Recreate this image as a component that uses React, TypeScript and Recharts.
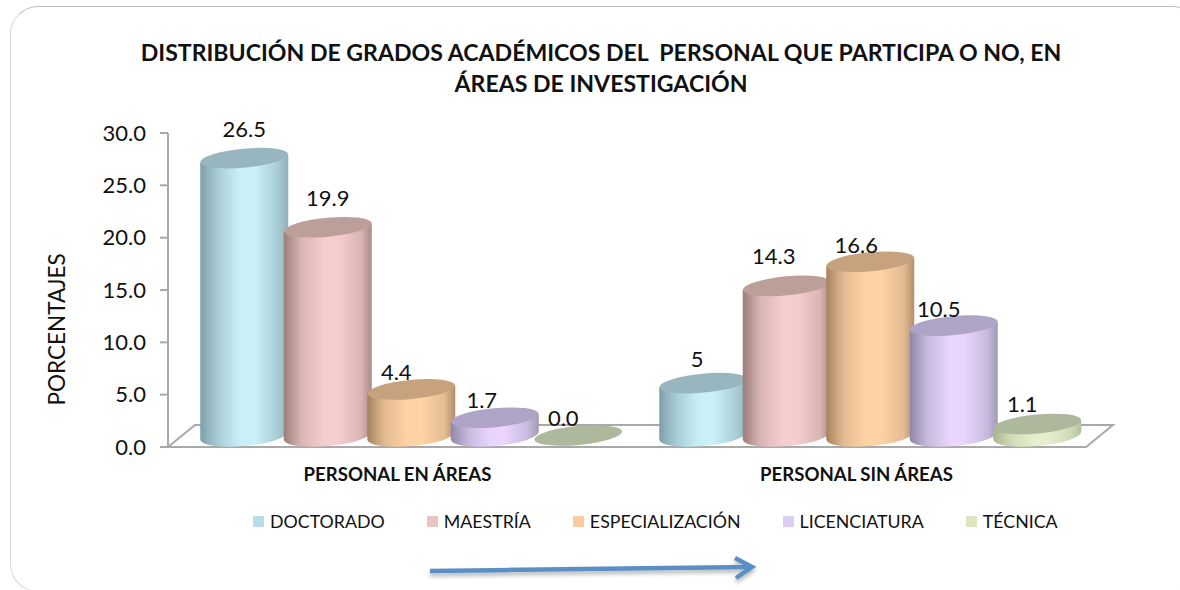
import { BarChart, Bar, XAxis, YAxis, LabelList, Legend, ReferenceArea } from "recharts";

const categories = ["PERSONAL EN ÁREAS", "PERSONAL SIN ÁREAS"];
const yTicks = [0, 5, 10, 15, 20, 25, 30];

const doctorado = [26.5, 5];
const maestria = [19.9, 14.3];
const especializacion = [4.4, 16.6];
const licenciatura = [1.7, 10.5];
const tecnica = [0.0, 1.1];

const seriesNames = ["DOCTORADO", "MAESTRÍA", "ESPECIALIZACIÓN", "LICENCIATURA", "TÉCNICA"];
const seriesValues = [doctorado, maestria, especializacion, licenciatura, tecnica];
// the source prints the second doctorado value without a decimal
const valueLabels = [
  ["26.5", "5"],
  ["19.9", "14.3"],
  ["4.4", "16.6"],
  ["1.7", "10.5"],
  ["0.0", "1.1"],
];

const chartData = categories.map((name, c) => {
  const row: Record<string, string | number> = { name };
  seriesNames.forEach((s, i) => {
    row[s] = seriesValues[i][c];
  });
  return row;
});

// colours per series: edge, mid, light centre, right edge, top cap, legend swatch
const palette = [
  { left: "#7d9fab", mid: "#a9cdd7", light: "#c9eff7", right: "#8fb0ba", cap: "#98b6c0", swatch: "#b7dde8" },
  { left: "#9a7d79", mid: "#d9b5b4", light: "#f5cdce", right: "#a88a86", cap: "#bd9f99", swatch: "#e8c4c2" },
  { left: "#a5835f", mid: "#e4bb92", light: "#fed2a5", right: "#b08e6c", cap: "#c8a27c", swatch: "#fcc9a0" },
  { left: "#8f88a5", mid: "#c7b9dd", light: "#e9d5fd", right: "#a299b4", cap: "#aea4c6", swatch: "#dccdf3" },
  { left: "#aab593", mid: "#cfdab6", light: "#e5efcd", right: "#b4bf9c", cap: "#aeb89c", swatch: "#dde6c3" },
];

// hand placed label offsets [dx, dy] from each cap centre, the source has them moved around
const labelNudge = [
  [[0, -30], [-6, -25]],
  [[0, -30], [-13, -30]],
  [[-15, -18], [-14, -17]],
  [[-13, -18], [-15, -17]],
  [[-15, -18], [-15, -20]],
];

const FONT = "Lato, Carlito, sans-serif";
const DEPTH_X = 13.5;
const DEPTH_Y = 11.5;
const RX = 44;
const RY = 9.5;
const TILT = -5.4;
const SKEW = 4;

function Cylinder(props: any) {
  const { x, y, width, height, seriesIndex } = props;
  const colors = palette[seriesIndex];
  const cx = x + width / 2 + DEPTH_X;
  const top = y - DEPTH_Y;
  const base = y + height - DEPTH_Y;
  const body = `M${cx - RX},${top + SKEW} L${cx - RX},${base + SKEW} A${RX} ${RY + 1} ${TILT} 0 0 ${cx + RX},${base - SKEW} L${cx + RX},${top - SKEW} Z`;
  return (
    <g>
      {height > 0 && <path d={body} fill={`url(#cyl-${seriesIndex})`} />}
      <ellipse
        cx={cx}
        cy={top}
        rx={RX}
        ry={RY}
        fill={colors.cap}
        transform={`rotate(${TILT} ${cx} ${top})`}
      />
    </g>
  );
}

function ValueLabel(props: any) {
  const { x, y, width, index, seriesIndex } = props;
  const [dx, dy] = labelNudge[seriesIndex][index];
  return (
    <text
      x={x + width / 2 + DEPTH_X + dx}
      y={y - DEPTH_Y + dy}
      textAnchor="middle"
      dominantBaseline="central"
      fontFamily={FONT}
      fontSize={22}
      fill="#111"
    >
      {valueLabels[seriesIndex][index]}
    </text>
  );
}

function Floor(props: any) {
  const { x, y, width, height } = props;
  const pts = [
    [x, y + height],
    [x + 27, y],
    [x + width + 27, y],
    [x + width, y + height],
  ];
  return (
    <polygon
      points={pts.map((p) => p.join(",")).join(" ")}
      fill="#fff"
      stroke="#a9a9a9"
      strokeWidth={2}
    />
  );
}

function LegendRow() {
  return (
    <div
      style={{
        display: "flex",
        gap: 42,
        fontFamily: FONT,
        fontSize: 17.8,
        color: "#111",
        whiteSpace: "nowrap",
      }}
    >
      {seriesNames.map((s, i) => (
        <div key={s} style={{ display: "flex", alignItems: "center", gap: 6 }}>
          <span style={{ width: 11, height: 11, background: palette[i].swatch }} />
          <span>{s}</span>
        </div>
      ))}
    </div>
  );
}

export default function App() {
  return (
    <div style={{ position: "fixed", left: 0, top: 0, width: 1180, height: 590, background: "#fff", overflow: "hidden" }}>
      {/* card outline, runs off the right and bottom of the screenshot */}
      <div
        style={{
          position: "absolute",
          left: 10,
          top: 6,
          width: 1190,
          height: 586,
          boxSizing: "border-box",
          borderStyle: "solid",
          borderWidth: 1,
          borderColor: "#bdbdbd #d8d8d8 #d8d8d8 #d8d8d8",
          borderRadius: 28,
        }}
      />
      <div
        style={{
          position: "absolute",
          left: 0,
          top: 37,
          width: 1202,
          textAlign: "center",
          fontFamily: FONT,
          fontWeight: 700,
          fontSize: 23.1,
          lineHeight: "31px",
          color: "#111",
          whiteSpace: "pre",
        }}
      >
        {"DISTRIBUCIÓN DE GRADOS ACADÉMICOS DEL  PERSONAL QUE PARTICIPA O NO, EN\nÁREAS DE INVESTIGACIÓN"}
      </div>
      <BarChart
        width={1180}
        height={590}
        data={chartData}
        margin={{ top: 133, right: 94, bottom: 0, left: 0 }}
        barSize={83.5}
        barGap={0}
        style={{ position: "absolute", left: 0, top: 0 }}
      >
        <defs>
          {palette.map((c, i) => (
            <linearGradient key={i} id={`cyl-${i}`} x1="0" y1="0" x2="1" y2="0">
              <stop offset="0" stopColor={c.left} />
              <stop offset="0.2" stopColor={c.mid} />
              <stop offset="0.45" stopColor={c.light} />
              <stop offset="0.62" stopColor={c.light} />
              <stop offset="0.88" stopColor={c.mid} />
              <stop offset="1" stopColor={c.right} />
            </linearGradient>
          ))}
        </defs>
        <ReferenceArea y1={0} y2={2.1} ifOverflow="visible" shape={<Floor />} />
        <XAxis
          dataKey="name"
          height={121}
          axisLine={false}
          tickLine={false}
          tickMargin={15}
          tick={{ fontFamily: FONT, fontWeight: 700, fontSize: 18.6, fill: "#111" }}
        />
        <YAxis
          width={168}
          domain={[0, 30]}
          ticks={yTicks}
          interval={0}
          tickFormatter={(v) => v.toFixed(1)}
          axisLine={{ stroke: "#a9a9a9", strokeWidth: 2 }}
          tickLine={{ stroke: "#a9a9a9", strokeWidth: 2 }}
          tickSize={8}
          tickMargin={14}
          tick={{ fontFamily: FONT, fontSize: 22, fill: "#111" }}
          label={{
            value: "PORCENTAJES",
            angle: -90,
            position: "insideLeft",
            dx: 52,
            dy: 115.5,
            style: { fontFamily: FONT, fontSize: 22.5, fill: "#111" },
          }}
        />
        <Legend
          content={<LegendRow />}
          wrapperStyle={{ position: "absolute", left: 253, top: 510, width: 850, bottom: "auto" }}
        />
        {seriesNames.map((s, i) => (
          <Bar
            key={s}
            dataKey={s}
            isAnimationActive={false}
            fill={palette[i].light}
            shape={(p: any) => <Cylinder {...p} seriesIndex={i} />}
          >
            <LabelList content={(p: any) => <ValueLabel {...p} seriesIndex={i} />} />
          </Bar>
        ))}
      </BarChart>
      {/* arrow under the legend */}
      <svg width={1180} height={590} style={{ position: "absolute", left: 0, top: 0, pointerEvents: "none" }}>
        <defs>
          <filter id="arrowShadow" x="-5%" y="-100%" width="110%" height="300%">
            <feDropShadow dx={0} dy={3} stdDeviation={2} floodColor="#000" floodOpacity={0.3} />
          </filter>
        </defs>
        <g filter="url(#arrowShadow)" fill="none" stroke="#5b8ec6" strokeWidth={4.5}>
          <path d="M430 571 L751 567" />
          <path d="M735 558 L752 567 L736 578" />
        </g>
      </svg>
    </div>
  );
}
